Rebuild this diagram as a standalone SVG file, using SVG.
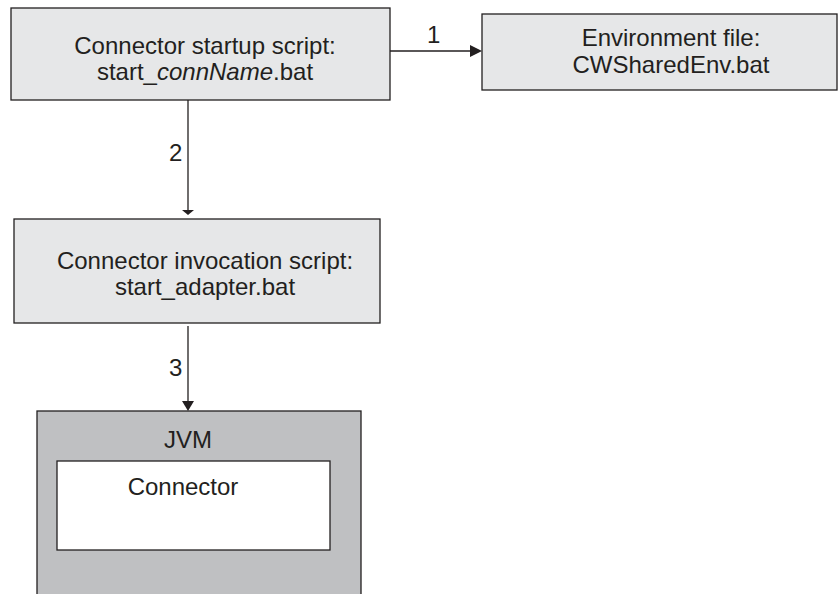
<svg xmlns="http://www.w3.org/2000/svg" width="838" height="594" viewBox="0 0 838 594">
<style>
.box{fill:#e6e7e8;stroke:#231f20;stroke-width:1.3}
.jvm{fill:#bfc0c2;stroke:#231f20;stroke-width:1.3}
.inner{fill:#ffffff;stroke:#231f20;stroke-width:1.3}
text{font-family:"Liberation Sans",Arial,sans-serif;font-size:24px;fill:#231f20}
.c{text-anchor:middle}
.line{stroke:#231f20;stroke-width:1.3;fill:none}
.head{fill:#231f20}
</style>
<rect x="0" y="0" width="838" height="594" fill="#ffffff"/>
<g id="startup">
<rect class="box" x="11" y="8" width="379" height="92"/>
<text class="c" x="205" y="54">Connector startup script:</text>
<text class="c" x="205" y="80">start_<tspan font-style="italic">connName</tspan>.bat</text>
</g>
<g id="envfile">
<rect class="box" x="482" y="14" width="355" height="76"/>
<text class="c" x="671" y="46">Environment file:</text>
<text class="c" x="671" y="73">CWSharedEnv.bat</text>
</g>
<g id="invocation">
<rect class="box" x="14" y="219" width="366" height="104"/>
<text class="c" x="205" y="269">Connector invocation script:</text>
<text class="c" x="205" y="295">start_adapter.bat</text>
</g>
<g id="jvm">
<rect class="jvm" x="37" y="411" width="324" height="200"/>
<text class="c" x="188" y="448">JVM</text>
</g>
<g id="connector">
<rect class="inner" x="57" y="461" width="273" height="89"/>
<text class="c" x="183" y="495">Connector</text>
</g>
<g id="connectors">
<line class="line" x1="390" y1="51" x2="471" y2="51"/>
<polygon class="head" points="470,45 482,51 470,57"/>
<text x="427" y="43">1</text>
<line class="line" x1="188" y1="100" x2="188" y2="211"/>
<polygon class="head" points="182,210 194,210 188,215"/>
<text x="169" y="161">2</text>
<line class="line" x1="188" y1="326" x2="188" y2="402"/>
<polygon class="head" points="182,401 194,401 188,411"/>
<text x="169" y="376">3</text>
</g>
</svg>
